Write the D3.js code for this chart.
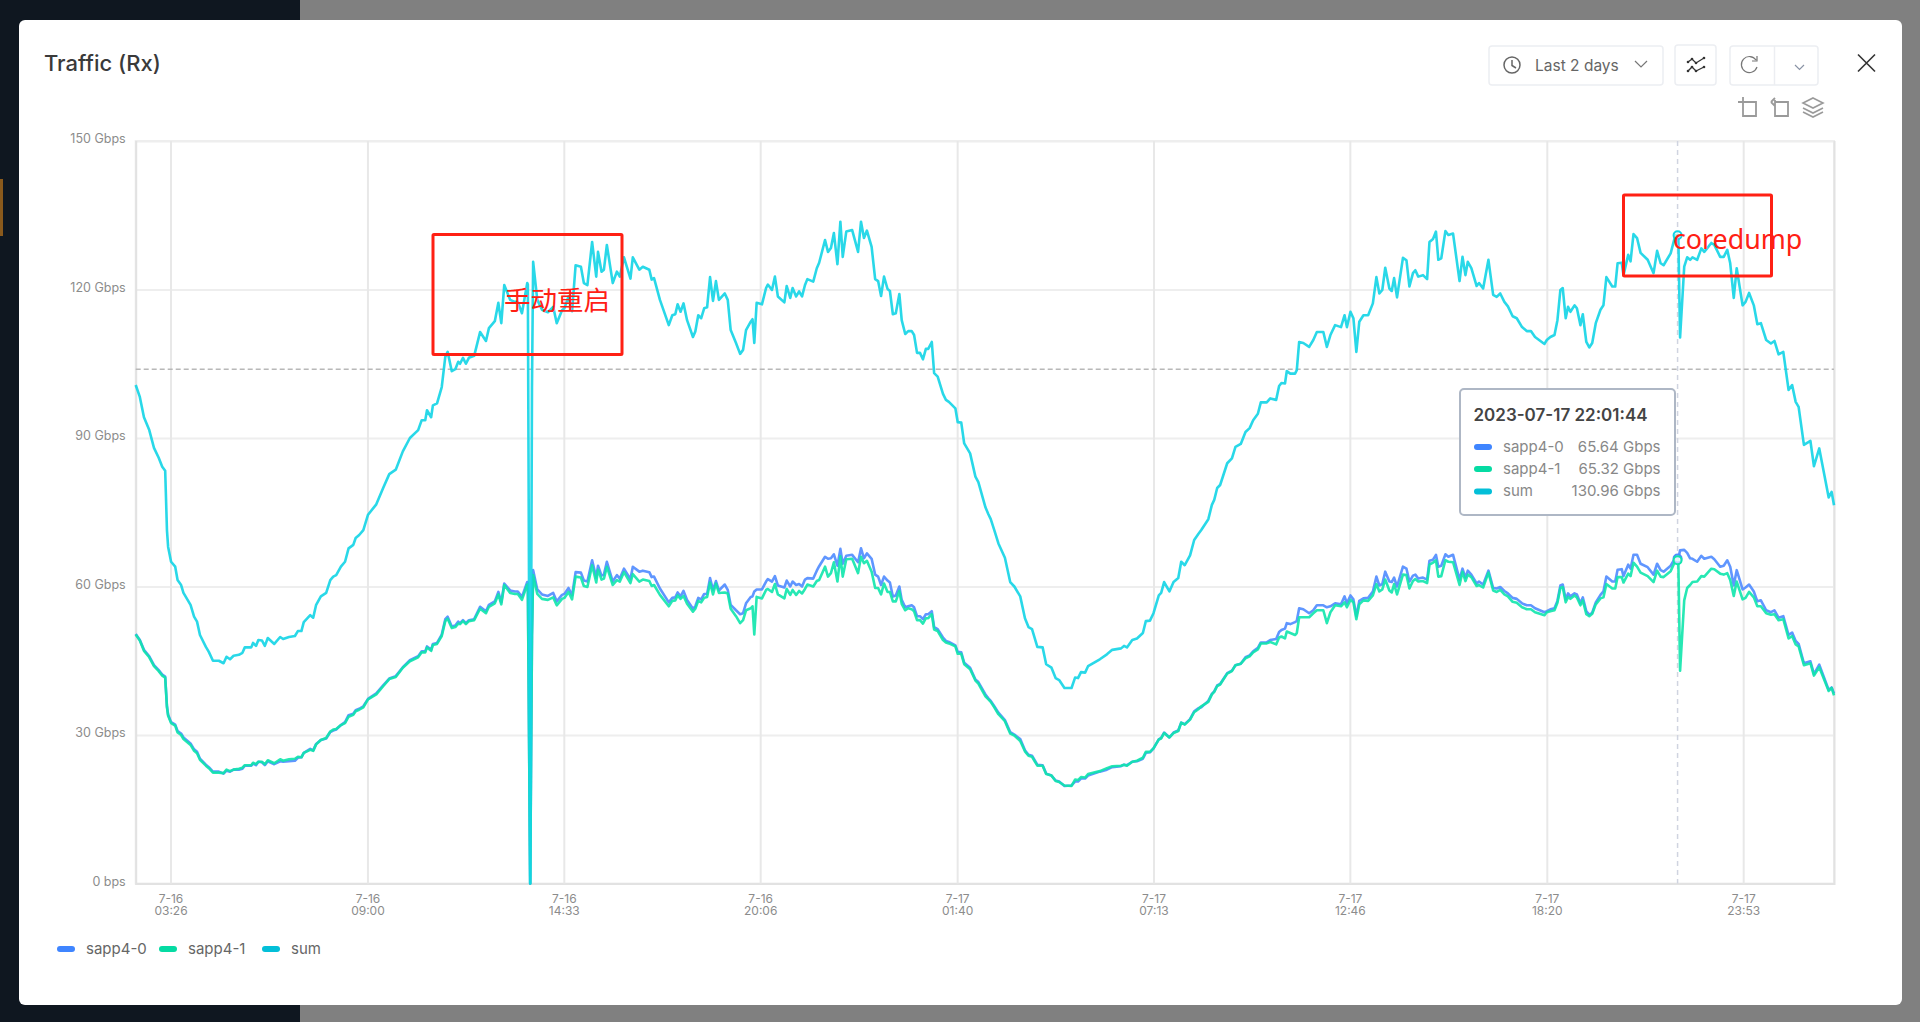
<!DOCTYPE html>
<html>
<head>
<meta charset="utf-8">
<title>Traffic (Rx)</title>
<script src="https://cdn.jsdelivr.net/npm/d3@7"></script>
<style>
  html, body { margin: 0; padding: 0; background: #808080; overflow: hidden; }
  svg { display: block; font-family: Inter, "Noto Sans", sans-serif; }
</style>
</head>
<body>
<div id="chart"></div>
<script>
// minutes since the start of the 2 day window
var minutes = [0,7,14,23,31,39,45,50,53,55,60,67,71,77,81,93,99,104,109,119,124,131,141,149,154,160,166,175,181,185,196,199,204,208,214,219,224,235,245,250,260,270,275,281,285,296,301,306,314,323,330,335,340,348,355,361,369,373,379,386,394,408,420,430,441,453,465,479,485,491,494,501,504,511,519,525,529,536,542,547,550,555,560,565,574,584,594,599,609,615,620,625,635,643,648,655,664,665,669,672,674,681,689,699,708,714,723,727,734,740,746,755,760,766,774,781,784,790,794,799,809,816,821,828,839,843,854,860,871,875,879,889,904,910,915,919,924,929,935,945,949,954,959,964,969,974,979,984,989,999,1004,1009,1018,1025,1030,1035,1043,1046,1049,1053,1062,1069,1072,1079,1084,1089,1100,1104,1110,1114,1120,1125,1130,1135,1139,1149,1155,1159,1169,1174,1179,1184,1190,1195,1199,1205,1215,1225,1230,1235,1240,1248,1254,1259,1264,1269,1275,1279,1284,1289,1295,1299,1305,1310,1316,1320,1325,1330,1335,1340,1344,1350,1354,1360,1369,1374,1379,1390,1394,1400,1405,1415,1424,1429,1441,1446,1450,1456,1463,1474,1483,1490,1500,1508,1514,1520,1529,1538,1544,1553,1560,1566,1575,1587,1593,1598,1603,1610,1615,1635,1647,1656,1671,1676,1681,1690,1698,1708,1713,1720,1726,1735,1739,1744,1753,1760,1768,1773,1779,1788,1795,1802,1807,1819,1825,1829,1834,1839,1851,1859,1865,1874,1882,1889,1895,1903,1908,1918,1924,1934,1939,1943,1949,1952,1958,1966,1969,1973,1980,1990,1997,2003,2014,2020,2026,2034,2044,2050,2054,2060,2065,2070,2075,2082,2090,2098,2104,2109,2114,2119,2126,2130,2134,2139,2149,2155,2160,2166,2170,2175,2183,2190,2194,2200,2205,2209,2214,2221,2226,2234,2245,2250,2255,2259,2265,2274,2278,2285,2294,2302,2308,2314,2321,2327,2335,2342,2351,2359,2366,2373,2389,2393,2399,2406,2411,2416,2420,2425,2429,2433,2440,2444,2450,2454,2460,2465,2470,2476,2484,2489,2494,2504,2509,2513,2520,2523,2531,2535,2540,2546,2552,2564,2574,2580,2586,2591,2603,2611,2616,2619,2626,2631,2636,2640,2648,2655,2660,2672,2677,2687,2693,2699,2704,2710,2715,2725,2730,2736,2744,2750,2756,2765,2773,2779,2786,2794,2803,2809,2815,2820,2829,2840,2846,2855,2871,2876,2880];

var sapp0 = [50.4,49.2,47.2,45.9,44.1,43.1,42.2,41.8,35.8,34.1,32.6,32.1,30.8,30.3,29.5,28.3,27.1,26.6,25.2,24,23.5,22.6,22.6,22.2,22.8,22.6,23,23,23.2,23.8,23.8,24.2,23.9,24.6,24.5,23.9,24.7,24.1,24.7,24.6,24.7,24.8,25.4,25.5,26.4,27.2,26.9,28.2,29,29.3,30.6,30.9,31.1,32,32.6,34,34.3,35,35.3,35.8,37.3,38.4,40.1,41.4,41.9,43.7,45.1,45.9,46.9,46.9,47.9,47.2,48.4,48.6,50.3,53.4,53.9,51.9,52.1,52.9,52.6,53.2,52.6,53.2,53.4,55.9,55,56.3,57,58.9,56.8,60.6,59.2,59,59,57.9,60.9,60.7,0,50,63.3,59.4,58.4,58.1,58.7,57,58.3,58.5,59.7,58.2,62.9,62.8,61.2,61,65.3,61.8,64.2,62.2,62.4,65,61,62.3,61.6,63.6,61.5,64,63,63.2,62.9,61.9,62,59.6,56.8,57.7,57.8,58.8,58,59.1,57.3,55.5,56,57.7,57.4,58.5,58.5,61.7,59.3,61.1,59.2,60.4,59.3,56.3,55.2,54.4,54.6,56.6,57.9,58,59,59.4,59.4,61,61.5,61,62.1,60.2,59.8,61.2,60,61,60.3,60.5,60,61.4,61.7,61.6,63.2,64.1,66,65.6,65.7,66.5,64.2,67.6,64.6,66.2,66.4,64.9,67.7,65.7,66.7,65.6,62.4,62,60.3,62,61.2,60.8,58,58.2,60,57.3,55.8,56,56.2,55.8,54,54,53.4,54.4,54.4,55,51.8,51.4,49.7,49,48.8,48.1,46.8,46.7,44.6,43.6,41.2,40.7,38.2,37.4,36.9,35.8,34.5,33,30.6,30.1,29.2,26.9,26,25.8,24,23.9,22.2,21.8,20.8,20.6,19.7,19.8,20.6,20.6,21.2,21.2,21.8,22.6,23,23.5,23.7,24,23.9,24.6,24.7,25.2,26.4,26.5,27.3,29.1,29.4,30.5,29.5,30.5,30.9,32.5,32.2,33.2,34.8,35.4,35.6,36.9,38.3,38.8,40,40.3,42.5,43,44.1,44.4,45.7,46.1,46.9,47.6,48.7,48.7,49.2,49.4,50.8,51.2,51.5,52.6,52.4,52.8,53.1,55.6,55.4,54.6,55.2,56.2,56.2,55.8,56,56.6,56.4,58,56.6,58.2,57.4,54,57.1,57.6,57.7,59,62,60.2,60.5,63,61,60.9,61.8,60,64,63.6,61,62.2,62.4,61.6,61.8,61.4,65.2,65.4,66.4,64,64.2,66.5,66,66.4,61.4,63.6,61.8,63.2,62.4,60.6,61,60.4,63.2,59.7,59.6,59.9,59.1,58.6,57.7,57.5,56.6,56.2,56.2,55.6,54.8,55,55.4,55.6,57.1,60.2,60.4,57.4,58.6,58,58.6,58.4,56.6,57.8,55,54.3,54.7,56.8,58.3,59,62,61,61,63.4,63.5,62.1,64.4,63.6,66.4,66.4,64.6,63.9,62.4,64.6,63.3,63,64.2,65.8,65.64,67.3,67.4,66.8,65.7,65.6,65,66.2,65.6,66,65.5,64,64.2,65.3,64,60.2,63.3,59.4,59.8,60.4,59,57,57.2,55.2,54.8,55.2,53.7,54,50.2,50.7,49,48.4,44.5,44.9,42.3,44.2,39.1,39.6,38.4];

var sapp1 = [50.3,49.1,47,45.7,43.9,42.9,42,41.6,35.6,33.9,32.4,31.9,30.5,30,29.2,28,26.8,26.3,25,23.8,23.3,22.4,22.4,22.3,23,22.7,23,23.2,23.4,23.9,23.9,24.4,24.1,24.6,24.6,24.1,24.9,24.3,25.1,24.8,25.1,25.2,25.6,25.5,26.4,27,26.8,28.1,29,29.4,30.7,31.1,31.2,32,32.4,33.7,34.1,34.8,35.1,35.6,37.2,38.2,39.9,41.3,41.7,43.6,44.9,45.7,46.7,46.7,47.7,47,48.2,48.4,50,53,53.5,51.6,51.8,52.5,52.4,53,52.4,53,53.2,55.5,54.6,55.9,56.6,58.4,56.4,60.3,58.7,58.5,58.5,57.3,60.4,60.3,0,50,62.3,58.5,57.5,57.3,57.8,56.2,57.5,57.7,58.9,57.4,62,61.8,60.1,59.9,64.3,60.8,63.4,61.4,61.6,64,60.3,61.3,61,62.9,60.7,62.5,61,61.4,61.1,60.1,60.3,58.3,56,57.1,57.2,58.2,57.5,58.1,56.5,54.9,55.5,57.1,56.8,57.7,57.9,60.8,58.4,60.6,58.7,58.8,58.6,55.5,54,52.6,53.2,55.2,55.6,56,50.3,57.9,57.6,59.3,59.5,58.9,60.5,58.4,57.6,59.5,58.3,59.3,58.3,59.1,58.6,59.5,60.4,60,61.1,61.3,64,62,62.7,64.9,61,66.1,62,65.5,65.6,62.7,66,64.7,65.2,63,59.7,59.7,58.4,60.6,58.9,58.9,57,57,59.1,56.5,55.2,55.6,55.4,55,53.2,53.2,52.5,53.6,53.6,54.4,51.3,51,49.2,48.7,48.5,47.9,46.4,46.4,44.3,43.3,41,40.4,37.8,37.2,36.7,35.6,34.2,32.8,30.3,29.9,28.8,26.7,25.8,25.6,23.8,23.8,22.1,21.8,20.7,20.5,19.8,19.7,21,20.9,21.5,21.4,22.1,22.7,23.3,23.7,23.8,24,23.8,24.6,24.8,25.4,26.6,26.6,27.3,29.1,29.3,30.4,29.5,30.4,30.8,32.5,32.1,33.1,34.6,35.2,35.8,36.7,38.2,38.7,39.9,40.2,42.4,42.9,44.1,44.4,45.5,45.9,46.7,47.3,48.5,48.5,48.8,48.3,49.7,49.9,49.5,50.9,50.6,50.2,50.6,53.8,53.8,53.8,54.6,55.2,55.2,52.6,54.8,56.2,56,56.8,55.8,57.3,56.8,53.4,56.4,57.2,57.1,58.2,60.5,59,59.4,61.4,59.2,58.8,60.5,58.4,62.4,62.3,59.6,61.1,61.5,61,61.1,60.7,64.4,64.8,65.3,62,62.1,65.3,65,64.9,60.3,63,61.1,62.4,61.9,60.1,60.3,59.8,62.8,59.2,58.9,59.3,58.4,58,56.9,56.7,55.8,55.4,55.4,54.8,54.2,54.8,55,55.2,56.7,59.7,59.9,56.8,57.9,57.5,58.2,57.8,56.2,57.2,54.4,54,54.5,56.4,57.6,57.8,60.5,59.6,59.6,61.9,61.9,60.8,62.6,62.1,64.8,64,62.8,62.1,60.9,63.2,62,61.9,63.1,65.2,65.32,43,57.2,59.7,60.3,60.9,61,62.1,62,63.6,63.5,62.6,62.4,62.7,61.3,58.1,61,57.4,57.7,58.9,57.8,56,56,54.6,54.3,54.4,53.2,53.4,49.5,50,48.3,47.9,44.1,44.5,42,43.7,38.9,39.5,38];

var sum = [100.7,98.3,94.2,91.6,88,86,84.2,83.4,71.4,68,65,64,61.3,60.3,58.7,56.3,53.9,52.9,50.2,47.8,46.8,45,45,44.5,45.8,45.3,46,46.2,46.6,47.7,47.7,48.6,48,49.2,49.1,48,49.6,48.4,49.8,49.4,49.8,50,51,51,52.8,54.2,53.7,56.3,58,58.7,61.3,62,62.3,64,65,67.7,68.4,69.8,70.4,71.4,74.5,76.6,80,82.7,83.6,87.3,90,91.6,93.6,93.6,95.6,94.2,96.6,97,100.3,106.4,107.4,103.5,103.9,105.4,105,106.2,105,106.2,106.6,111.4,109.6,112.2,113.6,117.3,113.2,120.9,117.9,117.5,117.5,115.2,121.3,121,0,100,125.6,117.9,115.9,115.4,116.5,113.2,115.8,116.2,118.6,115.6,124.9,124.6,121.3,120.9,129.6,122.6,127.6,123.6,124,129,121.3,123.6,122.6,126.5,122.2,126.5,124,124.6,124,122,122.3,117.9,112.8,114.8,115,117,115.5,117.2,113.8,110.4,111.5,114.8,114.2,116.2,116.4,122.5,117.7,121.7,117.9,119.2,117.9,111.8,109.2,107,107.8,111.8,113.5,114,109.2,117.3,117,120.3,121,119.9,122.6,118.6,117.4,120.7,118.3,120.3,118.6,119.6,118.6,120.9,122.1,121.6,124.3,125.4,130,127.6,128.4,131.4,125.1,133.7,126.6,131.7,132,127.6,133.7,130.4,131.9,128.6,122.1,121.7,118.7,122.6,120.1,119.7,115,115.2,119.1,113.8,111,111.6,111.6,110.8,107.2,107.2,105.9,108,108,109.4,103.1,102.4,98.9,97.7,97.3,96,93.2,93.1,88.9,86.9,82.2,81.1,76,74.6,73.6,71.4,68.7,65.8,60.9,60,58,53.6,51.8,51.4,47.8,47.7,44.3,43.6,41.5,41.1,39.5,39.5,41.6,41.5,42.7,42.6,43.9,45.3,46.3,47.2,47.5,48,47.7,49.2,49.5,50.6,53,53.1,54.6,58.2,58.7,60.9,59,60.9,61.7,65,64.3,66.3,69.4,70.6,71.4,73.6,76.5,77.5,79.9,80.5,84.9,85.9,88.2,88.8,91.2,92,93.6,94.9,97.2,97.2,98,97.7,100.5,101.1,101,103.5,103,103,103.7,109.4,109.2,108.4,109.8,111.4,111.4,108.4,110.8,112.8,112.4,114.8,112.4,115.5,114.2,107.4,113.5,114.8,114.8,117.2,122.5,119.2,119.9,124.4,120.2,119.7,122.3,118.4,126.4,125.9,120.6,123.3,123.9,122.6,122.9,122.1,129.6,130.2,131.7,126,126.3,131.8,131,131.3,121.7,126.6,122.9,125.6,124.3,120.7,121.3,120.2,126,118.9,118.5,119.2,117.5,116.6,114.6,114.2,112.4,111.6,111.6,110.4,109,109.8,110.4,110.8,113.8,119.9,120.3,114.2,116.5,115.5,116.8,116.2,112.8,115,109.4,108.3,109.2,113.2,115.9,116.8,122.5,120.6,120.6,125.3,125.4,122.9,127,125.7,131.2,130.4,127.4,126,123.3,127.8,125.3,124.9,127.3,131,130.96,110.3,124.6,126.5,126,126.5,126,128.3,127.6,129.4,129,126.6,126.6,128,125.3,118.3,124.3,116.8,117.5,119.3,116.8,113,113.2,109.8,109.1,109.6,106.9,107.4,99.7,100.7,97.3,96.3,88.6,89.4,84.3,87.9,78,79.1,76.4];

var yTicks = [0, 30, 60, 90, 120, 150];
var yTickLabels = ["0 bps", "30 Gbps", "60 Gbps", "90 Gbps", "120 Gbps", "150 Gbps"];
var xTickDates = ["2023-07-16T03:26", "2023-07-16T09:00", "2023-07-16T14:33", "2023-07-16T20:06", "2023-07-17T01:40", "2023-07-17T07:13", "2023-07-17T12:46", "2023-07-17T18:20", "2023-07-17T23:53"];
var seriesNames = ["sapp4-0", "sapp4-1", "sum"];
var tooltipValues = ["65.64 Gbps", "65.32 Gbps", "130.96 Gbps"];
var thresholdValue = 103.9;

var lineColors = ["#4f8bff", "#0fe6ac", "#12d4e6"];
var keyColors = ["#3f85ff", "#05dba3", "#03bfd8"];

var width = 1920, height = 1022;
var plot = {left: 135.7, right: 1834, top: 141, bottom: 883.5};

var svg = d3.select("#chart").append("svg")
    .attr("width", width)
    .attr("height", height);

// dimmed page behind the dialog
svg.append("rect").attr("width", width).attr("height", height).attr("fill", "#808080");
svg.append("rect").attr("width", 300).attr("height", height).attr("fill", "#0f1720");
svg.append("rect").attr("y", 179).attr("width", 3).attr("height", 57).attr("fill", "#8a5a1c");
svg.append("rect").attr("x", 19).attr("y", 20).attr("width", 1883).attr("height", 985)
    .attr("rx", 6).attr("fill", "#fff");

svg.append("text").attr("x", 44).attr("y", 71)
    .attr("font-size", 22).attr("font-weight", 500).attr("fill", "#3a3a3a")
    .text("Traffic (Rx)");

// ---- toolbar
function box(x, y, w, h) {
    svg.append("rect").attr("x", x).attr("y", y).attr("width", w).attr("height", h).attr("rx", 3)
        .attr("fill", "#fff").attr("stroke", "#eceef2").attr("stroke-width", 1.5);
}
function icon(d, color, sw) {
    svg.append("path").attr("d", d).attr("fill", "none")
        .attr("stroke", color).attr("stroke-width", sw || 1.5);
}
box(1489, 46, 174, 39);
box(1675, 45, 41, 40);
box(1730, 46, 88, 39);
icon("M1774.5 46V85", "#eceef2");
svg.append("circle").attr("cx", 1512).attr("cy", 65).attr("r", 8)
    .attr("fill", "none").attr("stroke", "#666").attr("stroke-width", 1.5);
icon("M1512 60V65.5L1516 68", "#666");
svg.append("text").attr("x", 1535).attr("y", 71).attr("font-size", 15.5).attr("fill", "#666").text("Last 2 days");
icon("M1635 61L1641 67L1647 61", "#777", 1.2);
icon("M1688 62L1692 59L1696 63L1704 58M1688 71L1692 67L1696 71L1704 67", "#333", 1.3);
[[1688, 62], [1692, 59], [1696, 63], [1704, 58], [1688, 71], [1692, 67], [1696, 71], [1704, 67]].forEach(function(p) {
    svg.append("circle").attr("cx", p[0]).attr("cy", p[1]).attr("r", 1.3).attr("fill", "#333");
});
icon("M1756 60A8 8 0 1 0 1757 67M1757 56V61H1752", "#777", 1.2);
icon("M1795 65L1799.5 69.5L1804 65", "#8a93a5", 1.2);
icon("M1858 54.5L1875 71.5M1875 54.5L1858 71.5", "#333", 1.6);
icon("M1738 102H1756V116H1743V97M1743 102", "#9a9a9a", 1.8);
icon("M1775 102H1788V116H1775V100M1771 102L1775 98M1771 102L1775 106", "#9a9a9a", 1.8);
icon("M1813 98L1823 103L1813 108L1803 103ZM1803 108L1813 113L1823 108M1803 112L1813 117L1823 112", "#9a9a9a", 1.6);

// ---- scales
var startTime = new Date(2023, 6, 16, 2, 27);
function timeAt(m) { return new Date(startTime.getTime() + m * 60000); }

var x = d3.scaleTime()
    .domain([timeAt(0), timeAt(2880)])
    .range([plot.left, plot.right]);
var y = d3.scaleLinear()
    .domain([0, 150])
    .range([plot.bottom, plot.top]);

// ---- frame and grid
svg.append("rect")
    .attr("x", plot.left).attr("y", plot.top)
    .attr("width", plot.right - plot.left).attr("height", plot.bottom - plot.top)
    .attr("fill", "none").attr("stroke", "#eeeeee").attr("stroke-width", 2);

var yAxis = svg.append("g")
    .attr("transform", "translate(" + plot.left + ",0)")
    .call(d3.axisLeft(y)
        .tickValues(yTicks)
        .tickSize(-(plot.right - plot.left))
        .tickPadding(10)
        .tickFormat(function(d, i) { return yTickLabels[i]; }));
yAxis.select(".domain").remove();
yAxis.selectAll("line").attr("stroke", "#eeeeee").attr("stroke-width", 2);
yAxis.selectAll("text")
    .attr("font-family", "Inter, sans-serif").attr("font-size", 12.5).attr("fill", "#8c8c8c")
    .attr("dy", "0.15em");

var xDates = xTickDates.map(function(s) { return new Date(s); });
var xAxis = svg.append("g")
    .attr("transform", "translate(0," + plot.bottom + ")")
    .call(d3.axisBottom(x)
        .tickValues(xDates)
        .tickSize(-(plot.bottom - plot.top))
        .tickPadding(6)
        .tickFormat(""));
xAxis.select(".domain").attr("stroke", "#e2e2e2").attr("stroke-width", 2);
xAxis.selectAll("line").attr("stroke", "#e8e8e8").attr("stroke-width", 2);
xAxis.selectAll("text").remove();
xAxis.selectAll(".tick").append("text")
    .attr("font-family", "Inter, sans-serif").attr("font-size", 12).attr("fill", "#8c8c8c")
    .attr("text-anchor", "middle")
    .selectAll("tspan")
    .data(function(d) { return [d3.timeFormat("%-m-%d")(d), d3.timeFormat("%H:%M")(d)]; })
    .enter().append("tspan")
        .attr("x", 0)
        .attr("y", function(d, i) { return i == 0 ? 19 : 31.5; })
        .text(function(d) { return d; });

// threshold line
svg.append("line")
    .attr("x1", plot.left).attr("x2", plot.right)
    .attr("y1", y(thresholdValue)).attr("y2", y(thresholdValue))
    .attr("stroke", "#b8b8b8").attr("stroke-width", 1.5).attr("stroke-dasharray", "5,3");

// hover line
var hoverTime = new Date(2023, 6, 17, 22, 1, 44);
svg.append("line")
    .attr("x1", x(hoverTime)).attr("x2", x(hoverTime))
    .attr("y1", plot.top).attr("y2", plot.bottom)
    .attr("stroke", "#d0d4e0").attr("stroke-width", 1.5).attr("stroke-dasharray", "5,4");

// ---- lines
var line = d3.line()
    .x(function(d, i) { return x(timeAt(minutes[i])); })
    .y(function(d) { return y(d); });

[sapp0, sapp1, sum].forEach(function(values, i) {
    svg.append("path")
        .datum(values)
        .attr("d", line)
        .attr("fill", "none")
        .attr("stroke", lineColors[i])
        .attr("stroke-width", 2.6)
        .attr("stroke-linejoin", "round")
        .attr("stroke-opacity", 0.9);
});

// hover markers
[65.64, 65.32, 130.96].forEach(function(v, i) {
    svg.append("circle")
        .attr("cx", x(hoverTime)).attr("cy", y(v)).attr("r", 4)
        .attr("fill", "#fff").attr("fill-opacity", 0.6)
        .attr("stroke", lineColors[i]).attr("stroke-width", 2);
});

// ---- legend
var legendX = [57, 159, 262], legendTextX = [86, 188, 291];
seriesNames.forEach(function(name, i) {
    svg.append("rect")
        .attr("x", legendX[i]).attr("y", 946).attr("width", 18).attr("height", 6).attr("rx", 3)
        .attr("fill", keyColors[i]);
    svg.append("text")
        .attr("x", legendTextX[i]).attr("y", 954)
        .attr("font-size", 15).attr("fill", "#666")
        .text(name);
});

// ---- tooltip
svg.append("rect").attr("x", 1460).attr("y", 389).attr("width", 215).attr("height", 126).attr("rx", 4)
    .attr("fill", "#fff").attr("stroke", "#aeb7c5").attr("stroke-width", 2);
svg.append("text").attr("x", 1473.5).attr("y", 421)
    .attr("font-size", 17).attr("font-weight", 600).attr("fill", "#444")
    .text("2023-07-17 22:01:44");
var rowY = [447, 469, 491.5];
seriesNames.forEach(function(name, i) {
    svg.append("rect")
        .attr("x", 1474).attr("y", rowY[i] - 3).attr("width", 18).attr("height", 6).attr("rx", 3)
        .attr("fill", keyColors[i]);
    svg.append("text").attr("x", 1503).attr("y", rowY[i] + 4.5)
        .attr("font-size", 15).attr("fill", "#888").text(name);
    svg.append("text").attr("x", 1660.5).attr("y", rowY[i] + 4.5)
        .attr("text-anchor", "end")
        .attr("font-size", 15).attr("fill", "#888").text(tooltipValues[i]);
});

// ---- red annotations drawn over the screenshot
svg.append("rect").attr("x", 433).attr("y", 234.5).attr("width", 189).attr("height", 120).attr("rx", 1)
    .attr("fill", "none").attr("stroke", "#ff2014").attr("stroke-width", 3);
svg.append("text").attr("x", 504).attr("y", 310)
    .attr("font-family", "'Noto Sans CJK SC', sans-serif").attr("font-size", 26.5).attr("fill", "#ff2014")
    .text("手动重启");
svg.append("rect").attr("x", 1623.5).attr("y", 195).attr("width", 148).attr("height", 81).attr("rx", 1)
    .attr("fill", "none").attr("stroke", "#ff2014").attr("stroke-width", 3);
svg.append("text").attr("x", 1673).attr("y", 249)
    .attr("font-family", "'Noto Sans', sans-serif").attr("font-size", 26.8).attr("fill", "#ff2014")
    .text("coredump");
</script>
</body>
</html>
